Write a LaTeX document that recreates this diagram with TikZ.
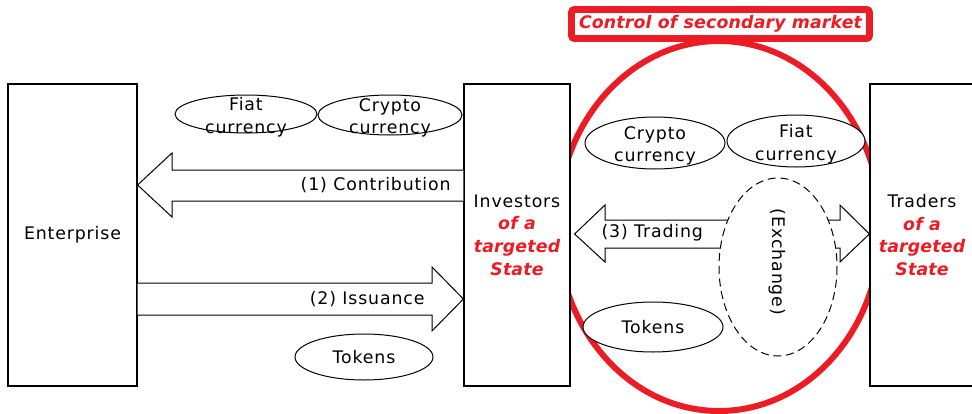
\documentclass[tikz,border=0pt]{standalone}
\usepackage{fontspec}
\setmainfont{DejaVu Sans}[LetterSpace=5]
\definecolor{ctrlred}{RGB}{237,28,36}
\newcommand{\redit}[1]{{\color{ctrlred}\bfseries\itshape\addfontfeature{LetterSpace=1}#1}}

\begin{document}
\begin{tikzpicture}[x=0.75pt,y=-0.75pt,line width=0.75pt,
  every node/.style={font=\fontsize{13}{17}\selectfont, inner sep=0pt},
  party/.style={draw, fill=white, line width=0.9pt, minimum height=226.5pt, align=center},
  coin/.style={draw, fill=white},
  blockarrow/.style={draw, fill=white, line join=miter}]
\useasboundingbox (0,0) rectangle (972,414);

\draw[ctrlred, line width=4.5pt] (719,226) ellipse (162 and 185);

\node[party, minimum width=96.75pt] (ent) at (72.5,235) {Enterprise};
\node[party, minimum width=79.5pt] (inv) at (517,235)
  {Investors\\ \redit{of a}\\ \redit{targeted}\\ \redit{State}};
\node[party, minimum width=78pt] (trd) at (922,235)
  {Traders\\ \redit{of a}\\ \redit{targeted}\\ \redit{State}};

\draw[blockarrow] (inv.west |- 0,170) -- (172,170) -- (172,153) -- (ent.east |- 0,185)
  -- (172,217) -- (172,201) -- (inv.west |- 0,201);
\node[anchor=east] (contrib) at (451,185) {(1) Contribution};

\draw[blockarrow] (ent.east |- 0,283) -- (432,283) -- (432,267) -- (inv.west |- 0,299)
  -- (432,331) -- (432,315) -- (ent.east |- 0,315);
\node[anchor=east] (issue) at (425,299) {(2) Issuance};

\draw[blockarrow] ([xshift=3pt]inv.east |- 0,234) -- (605,205) -- (605,220) -- (840,220)
  -- (840,205) -- (trd.west |- 0,234) -- (840,262) -- (840,248) -- (605,248)
  -- (605,262) -- cycle;
\node[anchor=west] (trading) at (601,233) {(3) Trading};

\draw[coin] (246,114) ellipse (71 and 19);
\node[align=center] (fiatL) at (246,117) {Fiat\\currency};
\draw[coin] (390,115) ellipse (72 and 20);
\node[align=center] (cryptoL) at (390,118) {Crypto\\currency};
\draw[coin] (364,357) ellipse (69 and 23);
\node (tokL) at (364,357) {Tokens};

\draw[coin] (655,143) ellipse (70 and 26);
\node[align=center] (cryptoR) at (655,146) {Crypto\\currency};
\draw[coin] (796,141) ellipse (69 and 26);
\node[align=center] (fiatR) at (796,144) {Fiat\\currency};
\draw[coin] (653,327) ellipse (70 and 25);
\node (tokR) at (653,327) {Tokens};

\draw[coin, dash pattern=on 6pt off 3.5pt] (778,267) ellipse (59 and 89);
\node[rotate=-90] (exch) at (777,262) {(Exchange)};

\node[draw=ctrlred, line width=5pt, fill=white, rounded corners=2pt,
  minimum width=223.5pt, minimum height=21.75pt] (ctrl) at (720.5,24)
  {\redit{Control of secondary market}};
\end{tikzpicture}
\end{document}
